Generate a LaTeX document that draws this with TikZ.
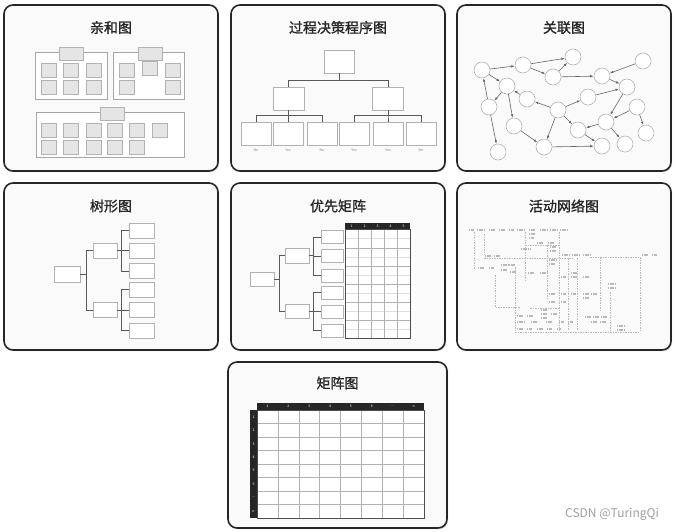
\documentclass[tikz,border=0pt]{standalone}
\usepackage{fontspec}
\newfontfamily\cjk{Noto Sans CJK SC}
\newfontfamily\cjkhead[FakeBold=1.2]{Noto Sans CJK SC}
\usetikzlibrary{arrows.meta, positioning, shadows}

\tikzset{
  panel/.style={draw=black!85, line width=1.6pt, rounded corners=9pt, fill=gray!4,
    drop shadow={shadow xshift=1.2pt, shadow yshift=-1.2pt, opacity=0.3}},
  title/.style={font=\cjkhead\fontsize{14}{14}\selectfont, text=black!85},
  grp/.style={draw=gray!70, line width=0.7pt, fill=white},
  card/.style={draw=gray!60, line width=0.6pt, fill=gray!20, minimum width=15pt, minimum height=14pt, inner sep=0pt},
  hdr/.style={card, minimum width=24pt, minimum height=13pt},
  tbox/.style={draw=gray!60, line width=0.6pt, fill=white, inner sep=0pt},
  link/.style={draw=black!65, line width=0.8pt},
  tag/.style={font=\cjk\fontsize{3.5}{4}\selectfont, text=gray, inner sep=0.5pt},
  bubble/.style={circle, draw=gray!60, line width=0.6pt, fill=white, minimum size=16pt, inner sep=0pt},
  rel/.style={-{Latex[length=3.5pt,width=2.5pt]}, draw=black!60, line width=0.6pt},
  cell/.style={draw=gray!60, line width=0.5pt},
  head/.style={font=\cjk\fontsize{3.5}{4}\selectfont, text=white, inner sep=0pt},
  scrib/.style={draw=gray!55, line width=1.1pt, dash pattern=on 1.2pt off 0.5pt},
  flow/.style={draw=gray!55, line width=0.4pt, dash pattern=on 1.5pt off 1pt},
}

\begin{document}
\begin{tikzpicture}[x=1pt, y=-1pt]
    \useasboundingbox (0,0) rectangle (676,531);

    % Panels
    \draw[panel] (4,5) rectangle (218,171);
    \draw[panel] (231,5) rectangle (445,171);
    \draw[panel] (457,5) rectangle (671,171);
    \draw[panel] (4,183) rectangle (218,350);
    \draw[panel] (231,183) rectangle (445,350);
    \draw[panel] (457,183) rectangle (671,350);
    \draw[panel] (228,362) rectangle (447,528);

    % Titles
    \node[title] (tAff) at (111,27.5) {亲和图};
    \node[title] (tPdpc) at (338,27.5) {过程决策程序图};
    \node[title] (tRel) at (564,27.5) {关联图};
    \node[title] (tTree) at (111,206) {树形图};
    \node[title] (tPrio) at (338,206) {优先矩阵};
    \node[title] (tNet) at (564,206) {活动网络图};
    \node[title] (tMat) at (337.5,383) {矩阵图};

    % Affinity diagram
    \draw[grp] (35,52) rectangle (107,99);  % Group 1
    \node[hdr] (affH1) at (71,53.5) {};
    \foreach \x in {49,70.5,93.5} {
        \foreach \y in {70,87.5} {
            \node[card] at (\x,\y) {};
        }
    }
    \draw[grp] (113,52) rectangle (184,99);  % Group 2
    \node[hdr] (affH2) at (150,53.5) {};
    \foreach \x/\y in {126.5/70, 150/68, 172.5/70, 126.5/87.5, 172.5/87.5} {
        \node[card] at (\x,\y) {};
    }
    \draw[grp] (36,112) rectangle (184,157);  % Group 3
    \node[hdr] (affH3) at (112.5,113.5) {};
    \foreach \x in {49,70.5,93.5,114.5,136.5,159.5} {
        \node[card] at (\x,130) {};
    }
    \foreach \x in {49,70.5,93.5,114.5,136.5} {
        \node[card] at (\x,147.5) {};
    }

    % Process decision program chart
    \node[tbox, minimum width=30pt, minimum height=23pt] (pdTop) at (339,61.5) {};
    \node[tbox, minimum width=31pt, minimum height=23pt] (pdA) at (288.5,98.5) {};
    \node[tbox, minimum width=31pt, minimum height=23pt] (pdB) at (388,98.5) {};
    \foreach \x/\t [count=\i] in {256/No, 288/Yes, 322/No, 354/Yes, 388/Yes, 421/No} {
        \node[tbox, minimum width=30pt, minimum height=23pt] (pd\i) at (\x,133.5) {};
        \node[tag, below=3pt of pd\i] (pdl\i) {\t};
    }
    \draw[link] (pdTop.south) -- ++(0,7) -| (pdA.north);
    \draw[link] (pdTop.south) -- ++(0,7) -| (pdB.north);
    \foreach \i in {1,2,3} \draw[link] (pdA.south) -- ++(0,5) -| (pd\i.north);
    \foreach \i in {4,5,6} \draw[link] (pdB.south) -- ++(0,5) -| (pd\i.north);

    % Interrelationship digraph
    \foreach \n/\x/\y in {1/482/70, 2/523/65, 3/573/57, 4/553/77, 5/643/61, 6/602/76,
                          7/507/86, 8/627/87, 9/527/99, 10/588/97, 11/489/107,
                          12/558/110, 13/637/107, 14/514/126, 15/606/122, 16/578/130,
                          17/646/133, 18/498/152, 19/544/147, 20/602/146, 21/625/144} {
        \node[bubble] (c\n) at (\x,\y) {};
    }
    \foreach \a/\b in {1/2, 2/3, 2/4, 4/3, 4/6, 5/6, 6/8, 10/8, 1/7, 11/1, 7/11, 7/14,
                       11/18, 9/7, 12/9, 12/10, 12/16, 12/19, 14/19, 19/20, 16/20,
                       15/16, 8/15, 13/15, 13/17, 15/21} {
        \draw[rel] (c\a) -- (c\b);
    }

    % Tree diagram
    \node[tbox, minimum width=26pt, minimum height=16pt] (tr0) at (67,274) {};
    \node[tbox, minimum width=24pt, minimum height=15pt] (trA) at (105,250.5) {};
    \node[tbox, minimum width=24pt, minimum height=15pt] (trB) at (105,310) {};
    \foreach \y [count=\i] in {230.5,250.5,271,289.5,310,330.5} {
        \node[tbox, minimum width=25pt, minimum height=15pt] (tl\i) at (141.5,\y) {};
    }
    \draw[link] (tr0.east) -- ++(6,0) |- (trA.west);
    \draw[link] (tr0.east) -- ++(6,0) |- (trB.west);
    \foreach \i in {1,2,3} \draw[link] (trA.east) -- ++(4,0) |- (tl\i.west);
    \foreach \i in {4,5,6} \draw[link] (trB.east) -- ++(4,0) |- (tl\i.west);

    % Prioritization matrix
    \node[tbox, minimum width=24pt, minimum height=14pt] (pr0) at (262,279) {};
    \node[tbox, minimum width=24pt, minimum height=15pt] (prA) at (297,255.5) {};
    \node[tbox, minimum width=24pt, minimum height=14pt] (prB) at (297,311.5) {};
    \foreach \y [count=\i] in {237,256,275.5,292.5,311.5,330.5} {
        \node[tbox, minimum width=22pt, minimum height=13pt] (pl\i) at (332,\y) {};
    }
    \draw[link] (pr0.east) -- ++(5,0) |- (prA.west);
    \draw[link] (pr0.east) -- ++(5,0) |- (prB.west);
    \foreach \i in {1,2,3} \draw[link] (prA.east) -- ++(4,0) |- (pl\i.west);
    \foreach \i in {4,5,6} \draw[link] (prB.east) -- ++(4,0) |- (pl\i.west);
    \fill[white] (345,229) rectangle (410,338);
    \foreach \y in {238.5,257,275,293,311,329} \draw[gray!25, line width=0.4pt] (345,\y) -- (410,\y);
    \foreach \x in {358,371,384,397} \draw[cell] (\x,229) -- (\x,338);
    \foreach \y in {248,266,284,302,320} \draw[cell] (345,\y) -- (410,\y);
    \draw[cell, draw=black!70, line width=0.7pt] (345,229) rectangle (410,338);
    \fill[black!85] (345,223) rectangle (410,229);
    \foreach \x [count=\i] in {351.5,364.5,377.5,390.5,403.5} \node[head] at (\x,226) {\i};

    % Activity network diagram
    \foreach \x/\y/\w in {469/230/5, 477/230/8, 489/230/6, 499/230/6, 509/230/5, 517/230/7,
                          529/230/6, 540/230/7, 550/230/7, 560/230/7, 529/234/6, 529/238/5,
                          537/243/6, 548/243/6, 550/247/6, 550/251/6, 521/249/9,
                          485/256/6, 494/256/6, 562/255/7, 572/255/7, 583/255/7,
                          642/255/6, 652/255/5, 549/260/7, 549/264/6,
                          478/268/6, 489/268/5, 501/265/7, 509/265/6, 501/270/6, 510/272/6,
                          528/273/6, 540/273/7, 561/277/5, 571/273/6, 571/277/6, 583/277/6,
                          549/294/6, 561/294/5, 571/294/5, 583/294/6, 591/294/6, 583/298/6,
                          608/284/7, 608/288/7, 549/302/6, 561/302/5,
                          541/310/6, 541/314/6, 541/318/6, 551/314/6, 517/316/6, 527/316/6,
                          517/322/7, 531/322/6, 546/322/6, 559/322/5, 568/322/5,
                          585/317/6, 593/317/6, 601/317/6, 591/322/6, 600/322/6,
                          517/329/6, 527/329/5, 537/329/6, 547/329/5, 557/329/4,
                          617/326/7, 617/330/7} {
        \draw[scrib] (\x,\y) -- ++(\w,0);
    }
    \draw[flow] (474,232) -- (474,269);
    \draw[flow] (484,234) -- (484,255);
    \draw[flow] (484,258) -- (572,258);
    \draw[flow] (495,275) -- (495,307) -- (520,307);
    \draw[flow] (515,267) -- (515,332) -- (640,332);
    \draw[flow] (525,232) -- (525,280);
    \draw[flow] (525,245) -- (560,245);
    \draw[flow] (547,245) -- (547,300);
    \draw[flow] (559,232) -- (559,330);
    \draw[flow] (568,258) -- (568,330);
    \draw[flow] (577,258) -- (577,330);
    \draw[flow] (590,257) -- (640,257);
    \draw[flow] (600,257) -- (600,310);
    \draw[flow] (610,292) -- (610,332);
    \draw[flow] (640,257) -- (640,332);
    \draw[flow] (530,308) -- (560,308);

    % Matrix diagram
    \fill[white] (257,410) rectangle (424,518);
    \foreach \i in {1,...,7} \draw[cell] ({257+\i*20.875},410) -- ++(0,108);
    \foreach \j in {1,...,7} \draw[cell] (257,{410+\j*13.5}) -- ++(167,0);
    \draw[cell, draw=black!70, line width=0.7pt] (257,410) rectangle (424,518);
    \fill[black!85] (257,403) rectangle (424,410);
    \fill[black!85] (250,410) rectangle (257,518);
    \foreach \t [count=\i] in {1,2,3,4,5,6,{\ldots},n} {
        \node[head] at ({257+(\i-0.5)*20.875},406.5) {\t};
        \node[head] at (253.5,{410+(\i-0.5)*13.5}) {\t};
    }

    % Watermark
    \node[font=\cjk\fontsize{12}{12}\selectfont, text=gray!75] (wm) at (612,514) {CSDN @TuringQi};
\end{tikzpicture}
\end{document}
